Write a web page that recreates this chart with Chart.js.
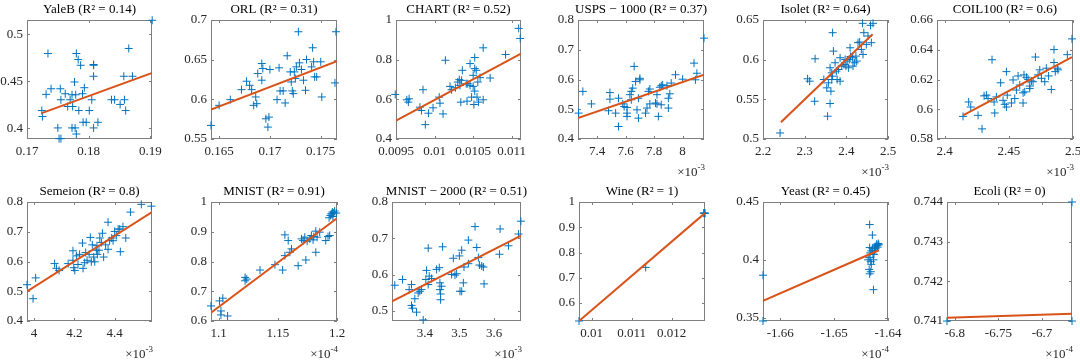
<!DOCTYPE html>
<html>
<head>
<meta charset="utf-8">
<script src="https://cdn.jsdelivr.net/npm/chart.js@4.4.0/dist/chart.umd.min.js"></script>
<style>
html, body { margin: 0; padding: 0; background: #fff; }
#wrap { position: relative; width: 1080px; height: 361px; overflow: hidden; }
#wrap canvas { position: absolute; left: 0; top: 0; }
</style>
</head>
<body>
<div id="wrap"></div>
<script>
// panel titles, in subplot order
const titles = [
  'YaleB (R\u00b2 = 0.14)', 'ORL (R\u00b2 = 0.31)', 'CHART (R\u00b2 = 0.52)',
  'USPS \u2212 1000 (R\u00b2 = 0.37)', 'Isolet (R\u00b2 = 0.64)', 'COIL100 (R\u00b2 = 0.6)',
  'Semeion (R\u00b2 = 0.8)', 'MNIST (R\u00b2 = 0.91)', 'MNIST \u2212 2000 (R\u00b2 = 0.51)',
  'Wine (R\u00b2 = 1)', 'Yeast (R\u00b2 = 0.45)', 'Ecoli (R\u00b2 = 0)'
];

// x axis multiplier exponent (null = none)
const exponents = [null, null, null, -3, -3, -3, -3, -4, -3, null, -4, -4];

// axis limits (x values in displayed units)
const xLimits = [
  [0.17, 0.19027], [0.1642, 0.1766], [0.0095, 0.01112], [7.266, 8.15], [2.2, 2.5], [2.394, 2.5],
  [3.965, 4.585], [1.0936, 1.2], [3.305, 3.678], [0.009683, 0.012833], [-1.6632, -1.64], [-6.8088, -6.6657]
];
const yLimits = [
  [0.3886, 0.5153], [0.55, 0.7], [0.4, 1], [0.4, 0.8], [0.5, 0.65], [0.58, 0.66],
  [0.4, 0.8], [0.6, 1], [0.472, 0.8], [0.529, 1], [0.3471, 0.45], [0.741, 0.744]
];

const xTicks = [
  [0.17, 0.18, 0.19], [0.165, 0.17, 0.175], [0.0095, 0.01, 0.0105, 0.011], [7.4, 7.6, 7.8, 8],
  [2.2, 2.3, 2.4, 2.5], [2.4, 2.45, 2.5], [4, 4.2, 4.4], [1.1, 1.15, 1.2], [3.4, 3.5, 3.6],
  [0.01, 0.011, 0.012], [-1.66, -1.65, -1.64], [-6.8, -6.75, -6.7]
];
const yTicks = [
  [0.4, 0.45, 0.5], [0.55, 0.6, 0.65, 0.7], [0.4, 0.6, 0.8, 1], [0.4, 0.5, 0.6, 0.7, 0.8],
  [0.5, 0.55, 0.6, 0.65], [0.58, 0.6, 0.62, 0.64, 0.66], [0.4, 0.5, 0.6, 0.7, 0.8],
  [0.6, 0.7, 0.8, 0.9, 1], [0.5, 0.6, 0.7, 0.8], [0.6, 0.7, 0.8, 0.9, 1], [0.35, 0.4, 0.45],
  [0.741, 0.742, 0.743, 0.744]
];

// scatter points [x, y]
const yalebPts = [[0.1903,0.515],[0.1734,0.4796],[0.1780,0.4796],[0.1783,0.4732],[0.1787,0.4671],[0.1808,0.4679],[0.1808,0.4671],[0.1808,0.4554],[0.1865,0.4850],[0.1871,0.4554],[0.1857,0.4554],[0.1777,0.4493],[0.1731,0.4361],[0.1739,0.4421],[0.1754,0.4421],[0.1793,0.4432],[0.1790,0.4368],[0.1762,0.4368],[0.1755,0.4304],[0.1770,0.4304],[0.1779,0.4357],[0.1766,0.4232],[0.1774,0.4232],[0.1784,0.4189],[0.1801,0.4189],[0.1805,0.4304],[0.1724,0.4189],[0.1725,0.4125],[0.1837,0.4304],[0.1842,0.4304],[0.1851,0.4254],[0.1858,0.4304],[0.1860,0.4189],[0.1796,0.4064],[0.1815,0.4064],[0.1808,0.4004],[0.1773,0.4004],[0.1778,0.4004],[0.1750,0.4004],[0.1780,0.3939],[0.1752,0.3890],[0.1755,0.3890],[0.1791,0.4064],[0.1773,0.4357]];
const orlPts = [[0.1642,0.5671],[0.1650,0.5924],[0.1661,0.5996],[0.1672,0.6122],[0.1677,0.6228],[0.1680,0.6177],[0.1682,0.6122],[0.1684,0.5924],[0.1687,0.5945],[0.1686,0.6030],[0.1688,0.6325],[0.1692,0.6451],[0.1693,0.6388],[0.1692,0.6241],[0.1700,0.6376],[0.1696,0.5755],[0.1699,0.5776],[0.1698,0.5650],[0.1709,0.6397],[0.1707,0.5996],[0.1710,0.6106],[0.1713,0.6106],[0.1715,0.5954],[0.1717,0.6549],[0.1720,0.6346],[0.1721,0.6219],[0.1722,0.6106],[0.1723,0.6072],[0.1724,0.6346],[0.1726,0.6409],[0.1728,0.6852],[0.1729,0.6460],[0.1731,0.6376],[0.1733,0.6241],[0.1735,0.6114],[0.1736,0.6502],[0.1741,0.6409],[0.1742,0.6650],[0.1743,0.6473],[0.1744,0.6283],[0.1746,0.6283],[0.1750,0.6473],[0.1751,0.6030],[0.1765,0.6852],[0.1764,0.6207],[0.1725,0.6262]];
const chartPts = [[0.00949,0.6247],[0.01109,0.9577],[0.01111,0.9070],[0.01063,0.8597],[0.01092,0.8259],[0.01014,0.7971],[0.01046,0.7802],[0.01052,0.8107],[0.01052,0.7549],[0.01054,0.7464],[0.01036,0.7464],[0.01050,0.7211],[0.01059,0.7093],[0.01072,0.7075],[0.01056,0.6872],[0.01032,0.6991],[0.01035,0.6957],[0.01030,0.6872],[0.01033,0.6703],[0.01020,0.6653],[0.01022,0.6484],[0.01046,0.6703],[0.01050,0.6653],[0.01043,0.6788],[0.01052,0.6416],[0.01048,0.6112],[0.01055,0.6112],[0.01057,0.5858],[0.01051,0.5740],[0.01042,0.5909],[0.01034,0.5858],[0.01063,0.5976],[0.00985,0.6484],[0.00964,0.5976],[0.00967,0.6027],[0.00966,0.5858],[0.00981,0.5605],[0.00983,0.5435],[0.00998,0.5571],[0.00992,0.5300],[0.01007,0.5808],[0.01006,0.6112],[0.01011,0.5266],[0.00988,0.4725],[0.01041,0.6788],[0.01027,0.6585]];
const uspsPts = [[7.27,0.487],[7.30,0.560],[7.36,0.518],[7.49,0.556],[7.49,0.534],[7.48,0.495],[7.53,0.487],[7.55,0.537],[7.55,0.442],[7.58,0.518],[7.59,0.509],[7.61,0.487],[7.61,0.476],[7.61,0.506],[7.63,0.549],[7.64,0.532],[7.64,0.560],[7.65,0.571],[7.66,0.644],[7.67,0.593],[7.68,0.498],[7.69,0.537],[7.70,0.599],[7.70,0.604],[7.69,0.470],[7.74,0.487],[7.76,0.560],[7.77,0.518],[7.77,0.568],[7.81,0.521],[7.82,0.549],[7.82,0.518],[7.83,0.476],[7.84,0.574],[7.85,0.515],[7.85,0.579],[7.86,0.582],[7.89,0.579],[7.90,0.537],[7.90,0.504],[7.91,0.552],[7.92,0.588],[7.95,0.616],[8.00,0.601],[8.08,0.655],[8.09,0.599],[8.10,0.621],[8.15,0.739],[7.75,0.504]];
const isoletPts = [[2.241,0.5076],[2.325,0.6011],[2.307,0.5759],[2.312,0.5729],[2.324,0.5476],[2.346,0.5750],[2.353,0.5645],[2.355,0.5287],[2.361,0.5447],[2.363,0.5603],[2.357,0.5708],[2.365,0.5750],[2.367,0.6340],[2.369,0.6108],[2.373,0.5961],[2.378,0.5750],[2.381,0.5876],[2.385,0.5729],[2.361,0.5898],[2.365,0.5834],[2.367,0.5792],[2.385,0.6024],[2.389,0.5919],[2.394,0.5940],[2.397,0.6003],[2.399,0.5919],[2.402,0.5982],[2.405,0.5898],[2.407,0.6003],[2.409,0.6150],[2.410,0.6040],[2.415,0.6024],[2.420,0.5961],[2.423,0.6045],[2.425,0.5982],[2.428,0.6214],[2.432,0.6222],[2.436,0.6129],[2.440,0.6066],[2.442,0.6340],[2.439,0.6458],[2.448,0.6192],[2.452,0.6298],[2.458,0.6433],[2.460,0.6214],[2.464,0.6458],[2.416,0.5919],[2.376,0.5855]];
const coilPts = [[2.4143,0.5952],[2.4187,0.6049],[2.4203,0.6015],[2.4260,0.5959],[2.4291,0.5868],[2.4307,0.6090],[2.4325,0.6095],[2.4338,0.6072],[2.4369,0.6333],[2.4385,0.6049],[2.4390,0.5975],[2.4403,0.6083],[2.4436,0.6178],[2.4455,0.6060],[2.4468,0.6033],[2.4481,0.6015],[2.4481,0.6253],[2.4488,0.6095],[2.4520,0.6042],[2.4533,0.6197],[2.4546,0.6072],[2.4559,0.6129],[2.4572,0.6224],[2.4585,0.6163],[2.4611,0.6110],[2.4611,0.6042],[2.4618,0.6231],[2.4624,0.6117],[2.4637,0.6215],[2.4650,0.6201],[2.4663,0.6156],[2.4663,0.6140],[2.4689,0.6185],[2.4707,0.6351],[2.4728,0.6231],[2.4741,0.6265],[2.4754,0.6208],[2.4780,0.6185],[2.4792,0.6276],[2.4810,0.6224],[2.4831,0.6133],[2.4852,0.6401],[2.4852,0.6314],[2.4862,0.6253],[2.4878,0.6276],[2.4883,0.6265],[2.4956,0.6367],[2.4992,0.6473],[2.4676,0.6190]];
const semeionPts = [[3.965,0.522],[3.995,0.475],[4.008,0.545],[4.102,0.593],[4.111,0.577],[4.124,0.570],[4.169,0.593],[4.193,0.604],[4.193,0.636],[4.197,0.579],[4.202,0.570],[4.210,0.619],[4.218,0.590],[4.226,0.624],[4.240,0.662],[4.243,0.577],[4.251,0.596],[4.256,0.630],[4.263,0.604],[4.273,0.624],[4.279,0.681],[4.284,0.599],[4.289,0.656],[4.296,0.615],[4.301,0.599],[4.309,0.638],[4.314,0.624],[4.322,0.638],[4.326,0.679],[4.334,0.664],[4.339,0.695],[4.345,0.615],[4.355,0.656],[4.367,0.732],[4.375,0.670],[4.367,0.641],[4.385,0.679],[4.392,0.670],[4.400,0.701],[4.408,0.687],[4.417,0.709],[4.425,0.709],[4.428,0.633],[4.441,0.717],[4.455,0.679],[4.478,0.766],[4.532,0.792],[4.582,0.786],[4.312,0.653]];
const mnistPts = [[1.0936,0.6507],[1.1008,0.6676],[1.1036,0.6766],[1.1020,0.6338],[1.1020,0.6203],[1.1076,0.6169],[1.1224,0.7465],[1.1224,0.7352],[1.1238,0.7408],[1.1350,0.7713],[1.1476,0.7893],[1.1541,0.7713],[1.1560,0.8197],[1.1560,0.8896],[1.1588,0.8704],[1.1602,0.8310],[1.1616,0.8423],[1.1672,0.7859],[1.1700,0.8761],[1.1714,0.8704],[1.1728,0.8817],[1.1737,0.8051],[1.1748,0.8682],[1.1770,0.8761],[1.1784,0.8873],[1.1798,0.8727],[1.1804,0.8839],[1.1821,0.9020],[1.1821,0.8310],[1.1832,0.8817],[1.1854,0.8986],[1.1905,0.8704],[1.1924,0.8839],[1.1938,0.8873],[1.1933,0.9470],[1.1944,0.9549],[1.1952,0.9606],[1.1961,0.9662],[1.1972,0.9628],[1.1980,0.9696],[1.1994,0.9628],[1.1966,0.9515]];
const mnist2000Pts = [[3.3130,0.5706],[3.3353,0.5864],[3.3546,0.5585],[3.3614,0.5724],[3.3614,0.5149],[3.3643,0.5074],[3.3710,0.5334],[3.3759,0.4963],[3.3807,0.5492],[3.3855,0.5539],[3.3904,0.5585],[3.3952,0.4749],[3.4029,0.5864],[3.4049,0.6115],[3.4097,0.6728],[3.4097,0.5724],[3.4126,0.5957],[3.4194,0.5892],[3.4339,0.6142],[3.4416,0.6189],[3.4436,0.5771],[3.4436,0.5585],[3.4455,0.5464],[3.4455,0.5306],[3.4484,0.5678],[3.4513,0.6765],[3.4774,0.6003],[3.4823,0.6449],[3.4871,0.5984],[3.4919,0.6022],[3.4997,0.6514],[3.5016,0.5539],[3.5065,0.6672],[3.5065,0.5539],[3.5113,0.5771],[3.5132,0.6207],[3.5258,0.6300],[3.5258,0.6950],[3.5451,0.7322],[3.5500,0.6746],[3.5548,0.6468],[3.5577,0.6263],[3.5645,0.6235],[3.5693,0.6207],[3.5712,0.5743],[3.6176,0.7257],[3.6157,0.6560],[3.6418,0.6793],[3.6708,0.7118],[3.6776,0.7471]];
const winePts = [[0.009683,0.529],[0.01135,0.741],[0.01280,0.956],[0.01283,0.956],[0.01283,0.955],[0.012815,0.9555]];
const yeastPts = [[-1.6632,0.3867],[-1.6632,0.3471],[-1.6434,0.4305],[-1.6429,0.4214],[-1.6427,0.3742],[-1.6434,0.4106],[-1.6431,0.4077],[-1.6435,0.4019],[-1.6428,0.4048],[-1.6425,0.4083],[-1.6422,0.4121],[-1.6418,0.4141],[-1.6417,0.4130],[-1.6421,0.4135],[-1.6432,0.3984],[-1.6431,0.3961],[-1.6435,0.3917],[-1.6432,0.3897],[-1.6434,0.3879],[-1.6427,0.4000],[-1.6437,0.4000],[-1.6426,0.4048],[-1.6429,0.4100],[-1.6424,0.4112],[-1.6420,0.4125],[-1.6419,0.4110],[-1.6423,0.4095],[-1.6433,0.4060]];
const ecoliPts = [[-6.8088,0.741],[-6.6657,0.744],[-6.6657,0.741]];

// fitted regression line end points [x, y]
const yalebFit = [[0.1724,0.4161],[0.1903,0.4589]];
const orlFit = [[0.1642,0.5870],[0.1766,0.6481]];
const chartFit = [[0.0095,0.4928],[0.01112,0.8309]];
const uspsFit = [[7.266,0.470],[8.15,0.616]];
const isoletFit = [[2.243,0.521],[2.463,0.632]];
const coilFit = [[2.4143,0.5959],[2.4992,0.6351]];
const semeionFit = [[3.965,0.4997],[4.585,0.766]];
const mnistFit = [[1.0936,0.628],[1.1994,0.9437]];
const mnist2000Fit = [[3.305,0.526],[3.678,0.707]];
const wineFit = [[0.009683,0.529],[0.012833,0.956]];
const yeastFit = [[-1.6632,0.3646],[-1.6417,0.4083]];
const ecoliFit = [[-6.8088,0.74108],[-6.6657,0.74118]];

const points = [yalebPts, orlPts, chartPts, uspsPts, isoletPts, coilPts,
  semeionPts, mnistPts, mnist2000Pts, winePts, yeastPts, ecoliPts];
const fits = [yalebFit, orlFit, chartFit, uspsFit, isoletFit, coilFit,
  semeionFit, mnistFit, mnist2000Fit, wineFit, yeastFit, ecoliFit];

// plot box of each subplot on the page: left, top, right, bottom
const boxes = [
  [27, 20, 152, 139], [211, 20, 337, 139], [396, 20, 521, 139],
  [578, 20, 704, 139], [763, 20, 888, 139], [937, 20, 1073, 139],
  [27, 202, 152, 321], [211, 202, 337, 321], [392, 202, 521, 321],
  [579, 202, 705, 321], [763, 202, 888, 321], [947, 202, 1072, 321]
];

const W = 1080, H = 361;
const AXH = 20;
const FONT = '"Liberation Serif", "Times New Roman", serif';
const AXIS_GRAY = '#7f7f7f';

// MATLAB-like box, inward ticks, title and x10^n label
const matlabAxes = {
  id: 'matlab',
  beforeDatasetsDraw(chart) {
    const { ctx, chartArea: a, scales } = chart;
    ctx.save();
    ctx.strokeStyle = AXIS_GRAY;
    ctx.lineWidth = 1;
    ctx.strokeRect(a.left + 0.5, a.top + 0.5, a.right - a.left - 1, a.bottom - a.top - 1);
    ctx.beginPath();
    scales.x.ticks.forEach(t => {
      const px = Math.round(scales.x.getPixelForValue(t.value)) + 0.5;
      ctx.moveTo(px, a.bottom); ctx.lineTo(px, a.bottom - 3);
      ctx.moveTo(px, a.top); ctx.lineTo(px, a.top + 3);
    });
    scales.y.ticks.forEach(t => {
      const py = Math.round(scales.y.getPixelForValue(t.value)) + 0.5;
      ctx.moveTo(a.left, py); ctx.lineTo(a.left + 3, py);
      ctx.moveTo(a.right, py); ctx.lineTo(a.right - 3, py);
    });
    ctx.stroke();
    ctx.restore();
  },
  afterDraw(chart, args, opts) {
    const { ctx, chartArea: a } = chart;
    ctx.save();
    ctx.fillStyle = '#000';
    ctx.font = '13px ' + FONT;
    ctx.textAlign = 'center';
    ctx.textBaseline = 'middle';
    ctx.fillText(opts.title, (a.left + a.right) / 2, a.top - 10);
    if (opts.exp !== null && opts.exp !== undefined) {
      ctx.fillStyle = '#262626';
      ctx.textAlign = 'right';
      ctx.font = '9px ' + FONT;
      const sup = String(opts.exp);
      const supW = ctx.measureText(sup).width;
      ctx.fillText(sup, a.right + 1, a.bottom + 29);
      ctx.font = '13px ' + FONT;
      ctx.fillText('\u00d710', a.right + 1 - supW, a.bottom + 34);
    }
    ctx.restore();
  }
};
Chart.register(matlabAxes);

const wrap = document.getElementById('wrap');

function makePanel(i) {
  const canvas = document.createElement('canvas');
  canvas.width = W;
  canvas.height = H;
  canvas.style.width = W + 'px';
  canvas.style.height = H + 'px';
  wrap.appendChild(canvas);
  const [l, t, r, b] = boxes[i];
  // y axis box must be wide enough, labels are clipped to it
  const axw = Math.min(l, 40);

  new Chart(canvas, {
    type: 'scatter',
    data: {
      datasets: [
        {
          type: 'line',
          data: fits[i].map(p => ({ x: p[0], y: p[1] })),
          borderColor: '#D95319',
          borderWidth: 2,
          pointRadius: 0,
          fill: false
        },
        {
          data: points[i].map(p => ({ x: p[0], y: p[1] })),
          pointStyle: 'cross',
          pointRadius: 4,
          pointBorderWidth: 1,
          borderColor: '#0072BD',
          backgroundColor: '#0072BD',
          clip: false
        }
      ]
    },
    options: {
      responsive: false,
      animation: false,
      events: [],
      layout: { padding: { left: l - axw, top: t, right: W - r, bottom: H - b - AXH } },
      plugins: {
        legend: { display: false },
        tooltip: { enabled: false },
        matlab: { title: titles[i], exp: exponents[i] }
      },
      scales: {
        x: {
          type: 'linear',
          min: xLimits[i][0],
          max: xLimits[i][1],
          grid: { display: false, drawTicks: false },
          border: { display: false },
          ticks: {
            autoSkip: false, maxRotation: 0, padding: 5,
            color: '#262626', font: { family: FONT, size: 13 },
            callback: v => String(v)
          },
          afterBuildTicks: s => { s.ticks = xTicks[i].map(v => ({ value: v })); },
          afterFit: s => { s.height = AXH; s.paddingLeft = 0; s.paddingRight = 0; }
        },
        y: {
          type: 'linear',
          min: yLimits[i][0],
          max: yLimits[i][1],
          grid: { display: false, drawTicks: false },
          border: { display: false },
          ticks: {
            autoSkip: false, padding: 4,
            color: '#262626', font: { family: FONT, size: 13 },
            callback: v => String(v)
          },
          afterBuildTicks: s => { s.ticks = yTicks[i].map(v => ({ value: v })); },
          afterFit: s => { s.width = axw; s.paddingTop = 0; s.paddingBottom = 0; }
        }
      }
    }
  });
}

for (let i = 0; i < titles.length; i++) makePanel(i);
</script>
</body>
</html>
